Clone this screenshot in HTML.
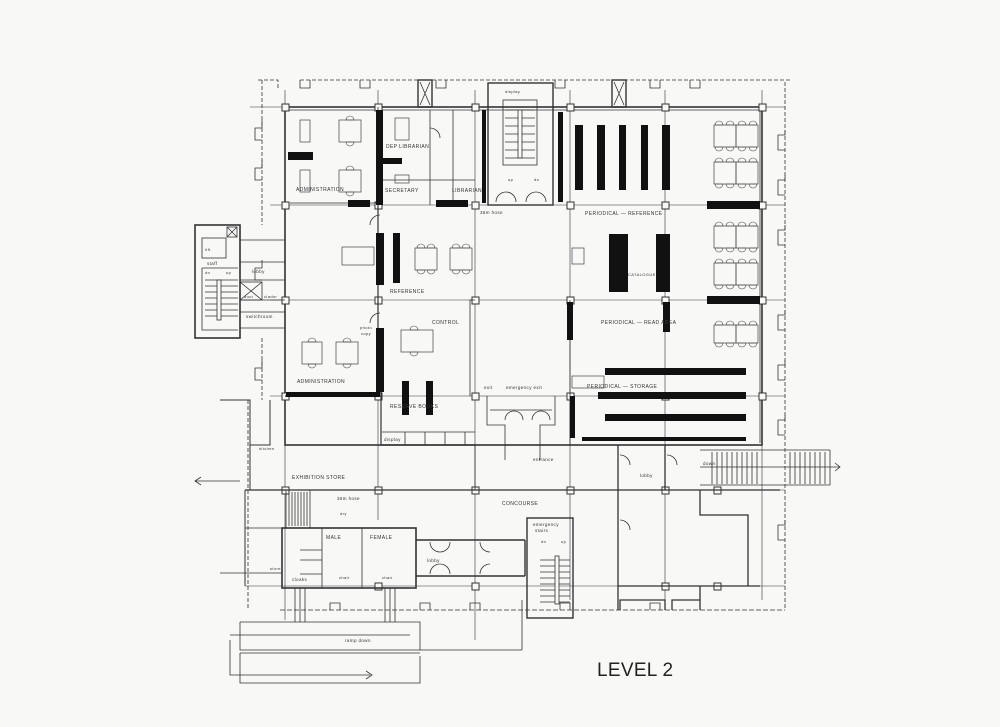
<!DOCTYPE html>
<html><head><meta charset="utf-8"><style>
html,body{margin:0;padding:0;background:#f8f8f7;}
svg{display:block;}
text{font-family:"Liberation Sans",sans-serif;fill:#333;}
</style></head><body>
<svg width="1000" height="727" viewBox="0 0 1000 727" xmlns="http://www.w3.org/2000/svg">
<defs>
<path id="cu" d="M-4 0 A4 4 0 0 1 4 0 Z"/>
<path id="cd" d="M-4 0 A4 4 0 0 0 4 0 Z"/>
</defs>
<rect width="1000" height="727" fill="#f8f8f7"/>
<g stroke="#333" fill="none" stroke-width="0.8">
<path d="M258 80 H278 V88 M300 80 H790 M785 82 V610" stroke-dasharray="4 2"/>
<path d="M262 80 V225 M262 338 V400 M248 400 V610" stroke-dasharray="4 2"/>
<path d="M280 610 H785" stroke-dasharray="5 2"/>
<path d="M300 80 V88 H310 V80 M360 80 V88 H370 V80 M436 80 V88 H446 V80 M555 80 V88 H565 V80 M650 80 V88 H660 V80 M690 80 V88 H700 V80"/>
<path d="M785 130 V135 H778 V150 H785 M785 175 V180 H778 V195 H785 M785 225 V230 H778 V245 H785 M785 310 V315 H778 V330 H785 M785 360 V365 H778 V380 H785 M785 415 V420 H778 V435 H785 M785 520 V525 H778 V540 H785"/>
<path d="M330 610 V603 H340 V610 M420 610 V603 H430 V610 M470 610 V603 H480 V610 M560 610 V603 H570 V610 M650 610 V603 H660 V610"/>
<path d="M262 120 V128 H255 V140 H262 M262 160 V168 H255 V180 H262 M262 260 V268 H255 V280 H262 M262 360 V368 H255 V380 H262"/>
<g stroke-width="0.6">
<path d="M285 90 V620 M378 90 V520 M475 90 V640 M570 90 V600 M665 90 V600 M762 90 V600"/>
<path d="M250 107 H785 M270 205 H785 M270 300 H785 M270 396 H785 M245 490 H785 M245 586 H785"/>
</g>
<rect x="285" y="107" width="477" height="338" stroke-width="1.6"/>
<path d="M287 110 H760" stroke-width="0.8"/>
<path d="M760 110 V443" stroke-width="0.8"/>
<g fill="#f8f8f7" stroke-width="1">
<rect x="282" y="104" width="7" height="7"/><rect x="375" y="104" width="7" height="7"/><rect x="472" y="104" width="7" height="7"/><rect x="567" y="104" width="7" height="7"/><rect x="662" y="104" width="7" height="7"/><rect x="759" y="104" width="7" height="7"/>
<rect x="282" y="202" width="7" height="7"/><rect x="375" y="202" width="7" height="7"/><rect x="472" y="202" width="7" height="7"/><rect x="567" y="202" width="7" height="7"/><rect x="662" y="202" width="7" height="7"/><rect x="759" y="202" width="7" height="7"/>
<rect x="282" y="297" width="7" height="7"/><rect x="375" y="297" width="7" height="7"/><rect x="472" y="297" width="7" height="7"/><rect x="567" y="297" width="7" height="7"/><rect x="662" y="297" width="7" height="7"/><rect x="759" y="297" width="7" height="7"/>
<rect x="282" y="393" width="7" height="7"/><rect x="375" y="393" width="7" height="7"/><rect x="472" y="393" width="7" height="7"/><rect x="567" y="393" width="7" height="7"/><rect x="662" y="393" width="7" height="7"/><rect x="759" y="393" width="7" height="7"/>
<rect x="282" y="487" width="7" height="7"/><rect x="375" y="487" width="7" height="7"/><rect x="472" y="487" width="7" height="7"/><rect x="567" y="487" width="7" height="7"/><rect x="662" y="487" width="7" height="7"/><rect x="714" y="487" width="7" height="7"/>
<rect x="375" y="583" width="7" height="7"/><rect x="472" y="583" width="7" height="7"/><rect x="662" y="583" width="7" height="7"/><rect x="714" y="583" width="7" height="7"/>
</g>
<rect x="488" y="83" width="65" height="122" stroke-width="1.4"/>
<rect x="503" y="100" width="34" height="65"/>
<path d="M505 110 H535 M505 118 H535 M505 126 H535 M505 134 H535 M505 142 H535 M505 150 H535 M505 158 H535"/>
<rect x="518" y="110" width="4" height="48" fill="#f8f8f7"/>
<path d="M496 202 A10 10 0 0 1 506 192 M516 202 A10 10 0 0 0 506 192 M526 202 A10 10 0 0 1 536 192 M546 202 A10 10 0 0 0 536 192"/>
<rect x="418" y="80" width="14" height="27" stroke-width="1.4"/><path d="M420 82 L430 105 M430 82 L420 105"/>
<rect x="612" y="80" width="14" height="27" stroke-width="1.4"/><path d="M614 82 L624 105 M624 82 L614 105"/>
<path d="M378 107 V205 M380 180 H475 M430 110 V205 M453 110 V205 M290 203 H378"/>
<path d="M381 392 V445 H475 M378 205 V396 M285 396 H381" stroke-width="1.2"/>
<path d="M472 300 H470 V396 M475 300 H472 M570 300 V445"/>
<path d="M382 432 H475 M405 432 V445 M425 432 V445 M445 432 V445 M465 432 V445"/>
<path d="M380 215 A10 10 0 0 0 370 225 M380 313 A10 10 0 0 0 370 323 M430 128 A10 10 0 0 1 440 138 M430 230 A0 0 0 0 1 430 230"/>
<path d="M487 396 V425 H505 V460 M555 396 V425 H540 V460 M490 410 H552"/>
<path d="M505 420 A9 9 0 0 1 514 411 M523 420 A9 9 0 0 0 514 411 M532 420 A9 9 0 0 1 541 411 M550 420 A9 9 0 0 0 541 411"/>
<rect x="195" y="225" width="45" height="113" stroke-width="1.6"/>
<rect x="202" y="238" width="24" height="20"/>
<rect x="227" y="227" width="10" height="10"/><path d="M227 227 L237 237 M237 227 L227 237"/>
<path d="M202 268 H238 M202 268 V330 H238 M205 280 H238 M205 286 H238 M205 292 H238 M205 298 H238 M205 304 H238 M205 310 H238 M205 316 H238"/>
<rect x="217" y="280" width="4" height="40" fill="#f8f8f7"/>
<path d="M240 240 H285 M240 262 H285 M240 280 H285 M240 300 H285 M240 312 H285 M240 328 H285"/>
<rect x="240" y="282" width="22" height="18"/><path d="M240 282 L262 300 M262 282 L240 300"/>
<path d="M220 400 H250 V490 M250 400 V445 H270 V400 M245 490 V586 M250 490 H285" stroke-width="1"/>
<path d="M245 490 H780" stroke-width="1.2"/>
<path d="M475 445 V490"/>
<path d="M286 490 V528 H310 V490 M289 492 V526 M292 492 V526 M295 492 V526 M298 492 V526 M301 492 V526 M304 492 V526 M307 492 V526"/>
<rect x="282" y="528" width="134" height="60" stroke-width="1.6"/>
<path d="M245 528 H282 M220 573 H282 M322 528 V588 M362 528 V588 M300 550 H322 M300 560 H322 M300 574 H322"/>
<path d="M416 540 H525 M416 576 H525 M525 540 V576" stroke-width="1.4"/>
<path d="M430 542 A10 10 0 0 0 440 552 M450 542 A10 10 0 0 1 440 552 M480 542 A10 10 0 0 0 490 552 M430 574 A10 10 0 0 1 440 564 M450 574 A10 10 0 0 0 440 564 M480 574 A10 10 0 0 1 490 564"/>
<rect x="527" y="518" width="46" height="100" stroke-width="1.4"/>
<path d="M540 560 H570 M540 566 H570 M540 572 H570 M540 578 H570 M540 584 H570 M540 590 H570 M540 596 H570 M540 602 H570"/>
<rect x="555" y="556" width="4" height="48" fill="#f8f8f7"/>
<path d="M618 445 V610 M665 445 V490 M700 490 V515 H748 V586 H700 V610 M618 586 H760 M620 610 V600 H665 V610 M672 610 V600 H700" stroke-width="1.3"/>
<path d="M620 455 A10 10 0 0 1 630 465 M667 455 A10 10 0 0 1 677 465 M620 520 A10 10 0 0 1 630 530"/>
<path d="M700 450 H830 M700 485 H830 M830 450 V485 M700 485 H742"/>
<path d="M712 452 V484 M717 452 V484 M722 452 V484 M727 452 V484 M732 452 V484 M737 452 V484 M742 452 V484 M747 452 V484 M752 452 V484 M757 452 V484 M790 452 V484 M795 452 V484 M800 452 V484 M805 452 V484 M810 452 V484 M815 452 V484 M820 452 V484 M825 452 V484"/>
<path d="M700 467 H840 M835 463 L840 467 L835 471"/>
<path d="M195 481 H240 M201 477 L195 481 L201 485"/>
<path d="M240 622 H420 V650 M240 622 V650 H522 M230 635 H410 M240 653 H420 M240 653 V683 H420 V656 M230 640 V675 H370 M366 671 L372 675 L366 679 M522 600 V650"/>
<path d="M295 588 V622 M300 588 V622 M305 588 V622 M385 588 V622 M390 588 V622 M395 588 V622"/>
</g>
<g fill="#111">
<rect x="288" y="152" width="25" height="8"/><rect x="348" y="200" width="22" height="7"/><rect x="376" y="110" width="7" height="95"/>
<rect x="380" y="158" width="22" height="6"/><rect x="436" y="200" width="32" height="7"/><rect x="482" y="110" width="4" height="93"/>
<rect x="376" y="233" width="8" height="52"/><rect x="393" y="233" width="7" height="50"/>
<rect x="376" y="328" width="8" height="64"/><rect x="286" y="392" width="94" height="5"/>
<rect x="402" y="381" width="7" height="34"/><rect x="426" y="381" width="7" height="34"/>
<rect x="575" y="125" width="8" height="65"/><rect x="597" y="125" width="8" height="65"/><rect x="619" y="125" width="7" height="65"/><rect x="641" y="125" width="7" height="65"/><rect x="662" y="125" width="8" height="65"/>
<rect x="558" y="112" width="5" height="90"/>
<rect x="707" y="201" width="53" height="8"/><rect x="707" y="296" width="53" height="8"/>
<rect x="609" y="234" width="19" height="58"/><rect x="656" y="234" width="14" height="58"/><rect x="663" y="302" width="7" height="30"/>
<rect x="567" y="302" width="6" height="38"/>
<rect x="605" y="368" width="141" height="7"/><rect x="598" y="392" width="148" height="7"/><rect x="605" y="414" width="141" height="7"/><rect x="582" y="437" width="164" height="4"/><rect x="570" y="396" width="5" height="42"/>
</g>
<g stroke="#444" fill="none" stroke-width="0.7">
<rect x="300" y="120" width="10" height="22"/><rect x="339" y="120" width="22" height="22"/>
<rect x="300" y="170" width="10" height="22"/><rect x="339" y="170" width="22" height="22"/>
<rect x="395" y="118" width="14" height="22"/><rect x="395" y="175" width="14" height="8"/>
<rect x="342" y="247" width="32" height="18"/><rect x="415" y="248" width="22" height="22"/><rect x="450" y="248" width="22" height="22"/>
<rect x="302" y="342" width="20" height="22"/><rect x="336" y="342" width="22" height="22"/><rect x="401" y="330" width="32" height="22"/>
<rect x="714" y="125" width="22" height="22"/><rect x="736" y="125" width="22" height="22"/>
<rect x="714" y="162" width="22" height="22"/><rect x="736" y="162" width="22" height="22"/>
<rect x="714" y="226" width="22" height="22"/><rect x="736" y="226" width="22" height="22"/>
<rect x="714" y="263" width="22" height="22"/><rect x="736" y="263" width="22" height="22"/>
<rect x="714" y="325" width="22" height="18"/><rect x="736" y="325" width="22" height="18"/>
<rect x="572" y="248" width="12" height="16"/><rect x="572" y="376" width="32" height="12"/>
</g>
<g stroke="#444" fill="none" stroke-width="0.6">
<g transform="translate(0,125)"><use href="#cu" x="719"/><use href="#cu" x="730"/><use href="#cu" x="742"/><use href="#cu" x="753"/></g>
<g transform="translate(0,147)"><use href="#cd" x="719"/><use href="#cd" x="730"/><use href="#cd" x="742"/><use href="#cd" x="753"/></g>
<g transform="translate(0,162)"><use href="#cu" x="719"/><use href="#cu" x="730"/><use href="#cu" x="742"/><use href="#cu" x="753"/></g>
<g transform="translate(0,184)"><use href="#cd" x="719"/><use href="#cd" x="730"/><use href="#cd" x="742"/><use href="#cd" x="753"/></g>
<g transform="translate(0,226)"><use href="#cu" x="719"/><use href="#cu" x="730"/><use href="#cu" x="742"/><use href="#cu" x="753"/></g>
<g transform="translate(0,248)"><use href="#cd" x="719"/><use href="#cd" x="730"/><use href="#cd" x="742"/><use href="#cd" x="753"/></g>
<g transform="translate(0,263)"><use href="#cu" x="719"/><use href="#cu" x="730"/><use href="#cu" x="742"/><use href="#cu" x="753"/></g>
<g transform="translate(0,285)"><use href="#cd" x="719"/><use href="#cd" x="730"/><use href="#cd" x="742"/><use href="#cd" x="753"/></g>
<g transform="translate(0,325)"><use href="#cu" x="719"/><use href="#cu" x="730"/><use href="#cu" x="742"/><use href="#cu" x="753"/></g>
<g transform="translate(0,343)"><use href="#cd" x="719"/><use href="#cd" x="730"/><use href="#cd" x="742"/><use href="#cd" x="753"/></g>
<use href="#cu" x="350" y="120"/><use href="#cd" x="350" y="142"/><use href="#cu" x="350" y="170"/><use href="#cd" x="350" y="192"/>
<use href="#cu" x="421" y="248"/><use href="#cu" x="431" y="248"/><use href="#cd" x="421" y="270"/><use href="#cd" x="431" y="270"/>
<use href="#cu" x="456" y="248"/><use href="#cu" x="466" y="248"/><use href="#cd" x="456" y="270"/><use href="#cd" x="466" y="270"/>
<use href="#cu" x="312" y="342"/><use href="#cd" x="312" y="364"/><use href="#cu" x="347" y="342"/><use href="#cd" x="347" y="364"/>
<use href="#cu" x="414" y="330"/><use href="#cd" x="414" y="352"/>
</g>
<g font-size="5" letter-spacing="0.4">
<text x="296" y="191">ADMINISTRATION</text>
<text x="386" y="148">DEP LIBRARIAN</text>
<text x="385" y="192">SECRETARY</text>
<text x="452" y="192">LIBRARIAN</text>
<text x="505" y="93" font-size="4">display</text>
<text x="508" y="181" font-size="4">up</text><text x="534" y="181" font-size="4">dn</text>
<text x="480" y="214" font-size="4.5">36m hose</text>
<text x="585" y="215">PERIODICAL — REFERENCE</text>
<text x="390" y="293">REFERENCE</text>
<text x="432" y="324">CONTROL</text>
<text x="601" y="324">PERIODICAL — READ   AREA</text>
<text x="628" y="276" font-size="4">CATALOGUE</text>
<text x="297" y="383">ADMINISTRATION</text>
<text x="360" y="329" font-size="4">photo</text><text x="361" y="335" font-size="4">copy</text>
<text x="390" y="408">RESERVE BOOKS</text>
<text x="384" y="441" font-size="4.5">display</text>
<text x="484" y="389" font-size="4.5">exit</text><text x="506" y="389" font-size="4.5">emergency exit</text>
<text x="587" y="388">PERIODICAL — STORAGE</text>
<text x="533" y="461" font-size="4.5">entrance</text>
<text x="292" y="479">EXHIBITION  STORE</text>
<text x="337" y="500" font-size="4.5">36m hose</text>
<text x="502" y="505">CONCOURSE</text>
<text x="640" y="477" font-size="4.5">lobby</text>
<text x="703" y="465" font-size="4.5">down</text>
<text x="259" y="450" font-size="4">kitchen</text>
<text x="205" y="251" font-size="4">lift</text>
<text x="207" y="265" font-size="4.5">staff</text>
<text x="205" y="274" font-size="4">dn</text><text x="226" y="274" font-size="4">up</text>
<text x="252" y="273" font-size="4.5">lobby</text>
<text x="244" y="298" font-size="4">duct</text><text x="264" y="298" font-size="4">cladnr</text>
<text x="246" y="318" font-size="4.5">switchroom</text>
<text x="340" y="515" font-size="4">dry</text>
<text x="326" y="539" font-size="5">MALE</text><text x="370" y="539" font-size="5">FEMALE</text>
<text x="270" y="570" font-size="4">store</text>
<text x="292" y="581" font-size="4.5">cloaks</text>
<text x="339" y="579" font-size="4">chair</text><text x="382" y="579" font-size="4">chair</text>
<text x="427" y="562" font-size="4.5">lobby</text>
<text x="533" y="526" font-size="4.5">emergency</text><text x="535" y="532" font-size="4.5">stairs</text>
<text x="541" y="543" font-size="4">dn</text><text x="561" y="543" font-size="4">up</text>
<text x="345" y="642" font-size="4.5">ramp down</text>
</g>
<text x="597" y="676" font-size="19" letter-spacing="0.3" style="fill:#222">LEVEL 2</text>
</svg>
</body></html>
